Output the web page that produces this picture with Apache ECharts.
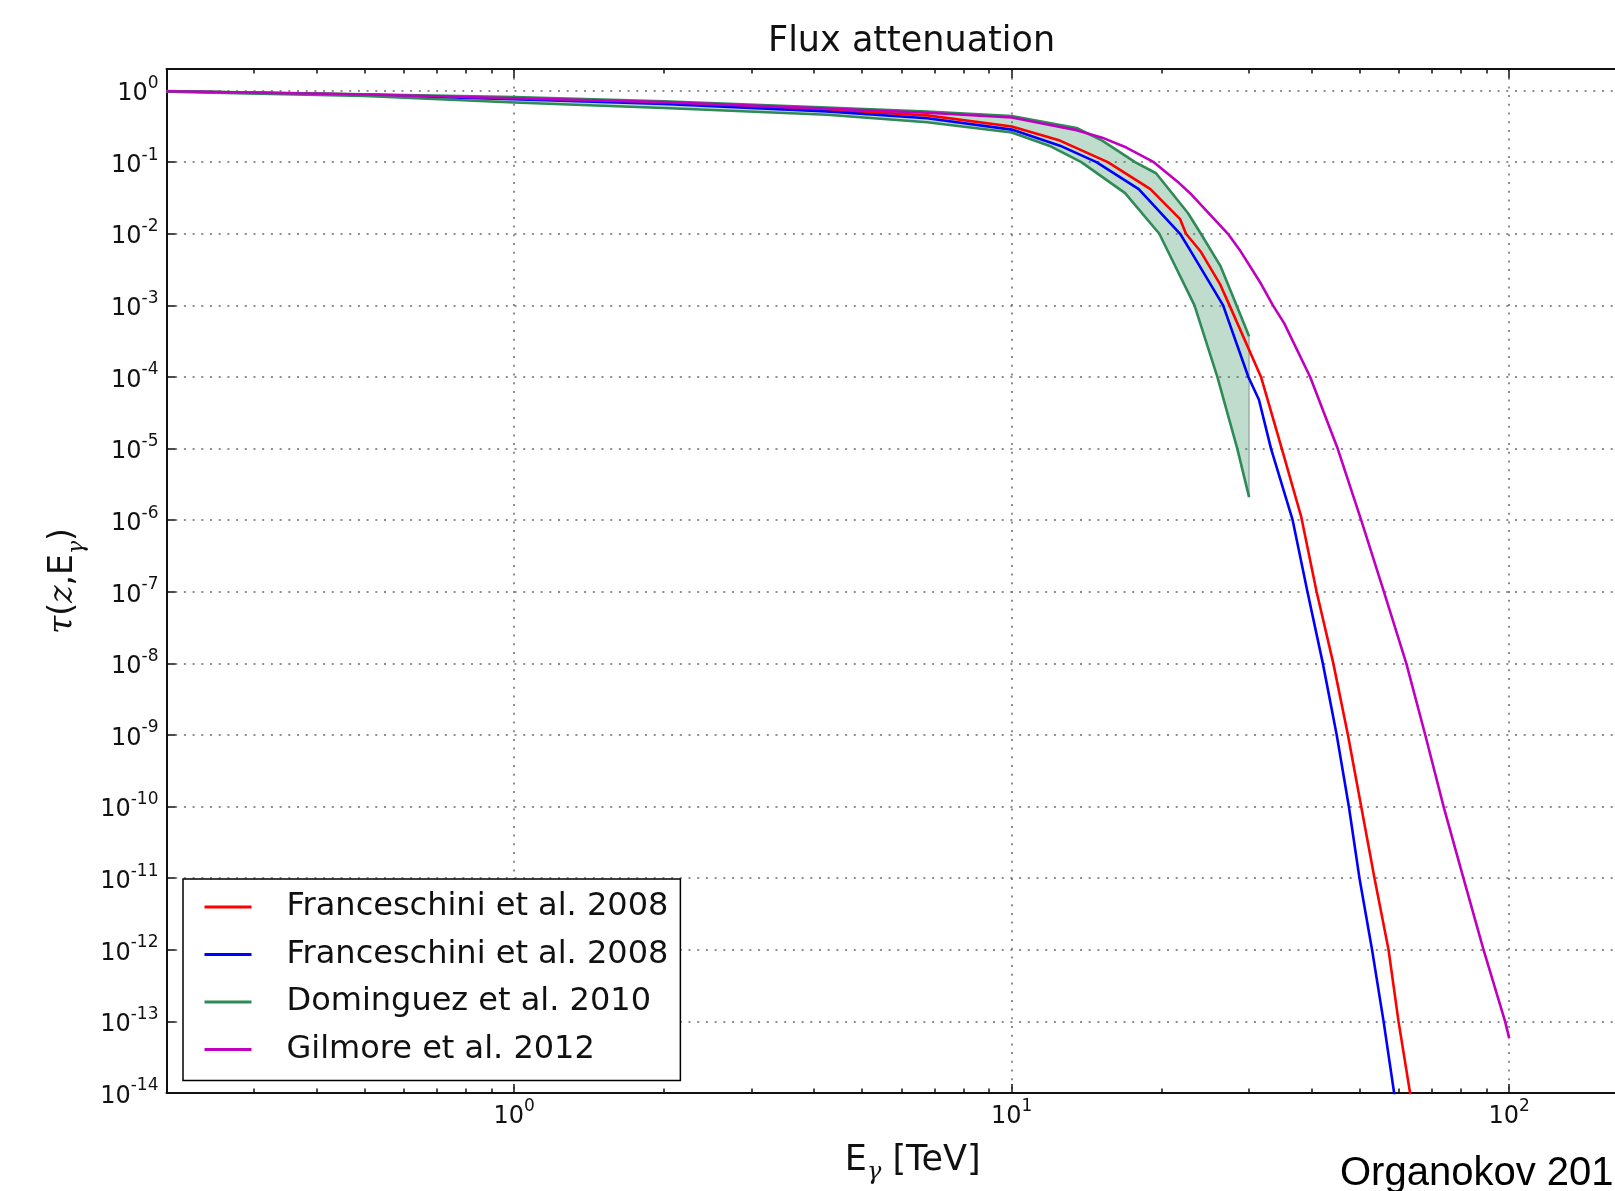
<!DOCTYPE html>
<html><head><meta charset="utf-8">
<script src="https://cdn.jsdelivr.net/npm/echarts@6/dist/echarts.min.js"></script>
<style>html,body{margin:0;padding:0;background:#fff;overflow:hidden;width:1615px;height:1191px}#c{width:1700px;height:1191px}</style>
</head><body><div id="c"></div>
<script>
// ---- data (E in TeV, tau dimensionless) ----
const energyF1 = [0.2, 0.5, 1, 2, 4.25, 6.76, 10, 12.5, 15.6, 19, 21.8, 22.4, 24, 26.2, 27.4, 31.7, 34.9, 38.2, 41.0, 44.3, 47.4, 50.4, 53.6, 57.2, 59.9, 63.2, 66.0];
const tauF1    = [0.98, 0.88, 0.78, 0.68, 0.54, 0.45, 0.315, 0.2, 0.1, 0.042, 0.016, 0.01, 5.6e-3, 2.0e-3, 1.0e-3, 1.0e-4, 1.0e-5, 1.1e-6, 1.0e-7, 1.0e-8, 1.0e-9, 1.0e-10, 1.0e-11, 1.0e-12, 1.0e-13, 1.0e-14, 1.0e-15];

const energyF2 = [0.2, 0.5, 1, 2, 4.25, 6.76, 10, 12.5, 14.8, 18, 21.8, 22.8, 26.6, 29.9, 31.4, 33.2, 36.7, 39.3, 42.2, 45.0, 47.6, 50.0, 53.0, 55.9, 58.7, 61.5];
const tauF2    = [0.98, 0.87, 0.76, 0.65, 0.51, 0.41, 0.285, 0.17, 0.1, 0.042, 0.01, 6.0e-3, 1.0e-3, 1.0e-4, 4.8e-5, 1.0e-5, 1.0e-6, 1.0e-7, 1.0e-8, 1.0e-9, 1.0e-10, 1.0e-11, 1.0e-12, 1.0e-13, 1.0e-14, 1.0e-15];

const energyDomUpper = [0.2, 0.5, 1, 2, 4.25, 6.76, 10, 13.5, 15.2, 17.7, 19.5, 22.6, 24.0, 26.3, 28.3, 30.0];
const tauDomUpper    = [0.985, 0.89, 0.81, 0.71, 0.58, 0.51, 0.44, 0.3, 0.2, 0.1, 0.07, 0.0195, 0.01, 3.5e-3, 1.0e-3, 3.7e-4];

const energyDomLower = [0.2, 0.5, 1, 2, 4.25, 6.76, 10, 12, 13.8, 16.9, 19.8, 23.3, 25.9, 28.4, 30.0];
const tauDomLower    = [0.96, 0.84, 0.68, 0.57, 0.46, 0.36, 0.26, 0.165, 0.1, 0.037, 0.01, 1.0e-3, 1.0e-4, 1.0e-5, 2.1e-6];

const energyGil = [0.2, 0.5, 1, 2, 4.25, 6.76, 10, 13.5, 15.2, 17, 19.3, 21.7, 23, 27.2, 28.7, 31.7, 33.5, 35.3, 39.8, 45.2, 50.4, 56.0, 62.1, 67.8, 73.8, 80.9, 88.8, 98.1, 100];
const tauGil    = [0.98, 0.88, 0.78, 0.69, 0.56, 0.49, 0.42, 0.28, 0.22, 0.16, 0.1, 0.051, 0.035, 0.01, 6.0e-3, 2.0e-3, 1.0e-3, 5.6e-4, 1.0e-4, 1.0e-5, 1.0e-6, 1.0e-7, 1.0e-8, 1.0e-9, 1.0e-10, 1.0e-11, 1.0e-12, 1.0e-13, 5.8e-14];

const seriesKeys   = ['F1', 'F2', 'D', 'G'];
const legendLabels = ['Franceschini et al. 2008', 'Franceschini et al. 2008', 'Dominguez et al. 2010', 'Gilmore et al. 2012'];

const xMajorTicks = [1, 10, 100];
const xMinorTicks = [0.3, 0.4, 0.5, 0.6, 0.7, 0.8, 0.9, 2, 3, 4, 5, 6, 7, 8, 9, 20, 30, 40, 50, 60, 70, 80, 90];
const yMajorTicks = [1e-14, 1e-13, 1e-12, 1e-11, 1e-10, 1e-9, 1e-8, 1e-7, 1e-6, 1e-5, 1e-4, 1e-3, 1e-2, 1e-1, 1];

const titleText = 'Flux attenuation';
const creditText = 'Organokov 2019';

// ---- helpers ----
const zip = (xs, ys) => xs.map((x, i) => [x, ys[i]]);
const FONT = 'DejaVu Sans';
const INK = '#111';
const labelRich = {
  b: {fontFamily: FONT, fontSize: 24, color: INK, lineHeight: 31, verticalAlign: 'bottom'},
  s: {fontFamily: FONT, fontSize: 17, color: INK, lineHeight: 19, verticalAlign: 'top'}
};
function powLabel(v) {
  const e = Math.log10(v);
  const r = Math.round(e);
  if (Math.abs(e - r) > 1e-6) return '';
  return '{b|10}{s|' + r + '}';
}
const gridLine = {show: true, lineStyle: {color: '#6a6a6a', width: 1.5, type: [2, 6.7]}};
const frameLine = {show: true, onZero: false, lineStyle: {color: INK, width: 2}};

function xAx(pos, ticks, len, withLine, withLabels) {
  return {
    type: 'log', logBase: 10, min: 0.2, max: 200, position: pos, gridIndex: 0,
    axisLine: withLine ? frameLine : {show: false},
    axisTick: {show: true, inside: true, length: len, lineStyle: {color: INK, width: 1.5}, customValues: ticks},
    axisLabel: withLabels ? {show: true, margin: 5, formatter: powLabel, rich: labelRich, customValues: ticks} : {show: false},
    splitLine: withLabels ? gridLine : {show: false},
    minorTick: {show: false}
  };
}

const lineSeries = (key, data, color, z) => ({
  name: key, type: 'line', data: data, symbol: 'none', showSymbol: false, smooth: false,
  lineStyle: {color: color, width: 2.6, join: 'round'}, itemStyle: {color: color},
  clip: true, z: z, animation: false
});

const chart = echarts.init(document.getElementById('c'), null, {renderer: 'canvas'});
const mainX = xAx('bottom', xMajorTicks, 9, true, true);
mainX.name = '{e|E}{g|γ}{e| [TeV]}';
mainX.nameLocation = 'middle';
mainX.nameGap = 50;
mainX.nameTextStyle = {
  rich: {
    e: {fontFamily: FONT, fontSize: 35, color: INK, lineHeight: 42, verticalAlign: 'top'},
    g: {fontFamily: 'DejaVu Serif', fontStyle: 'italic', fontSize: 24, color: INK, lineHeight: 22, verticalAlign: 'bottom'}
  }
};

chart.setOption({
  animation: false,
  backgroundColor: '#fff',
  title: {
    text: titleText, left: 768, top: 24, padding: 0,
    textStyle: {fontFamily: FONT, fontSize: 35, fontWeight: 'normal', color: INK}
  },
  grid: {left: 166.5, width: 1492.5, top: 69, bottom: 98, containLabel: false},
  xAxis: [
    mainX,
    xAx('bottom', xMinorTicks, 4.5, false, false),
    xAx('top', xMajorTicks, 9, true, false),
    xAx('top', xMinorTicks, 4.5, false, false)
  ],
  yAxis: [{
    type: 'log', logBase: 10, min: 1e-14, max: 2, position: 'left',
    axisLine: frameLine,
    axisTick: {show: true, inside: true, length: 9, lineStyle: {color: INK, width: 1.5}, customValues: yMajorTicks},
    axisLabel: {show: true, margin: 8, formatter: powLabel, rich: labelRich, customValues: yMajorTicks},
    splitLine: gridLine,
    minorTick: {show: false},
    name: '{t|τ}{p|(}{t|z}{p|,E}{g|γ}{p|)}',
    nameLocation: 'middle', nameRotate: 90, nameGap: 78,
    nameTextStyle: {
      rich: {
        t: {fontFamily: 'DejaVu Serif', fontStyle: 'italic', fontSize: 33, color: INK, lineHeight: 42, verticalAlign: 'top'},
        p: {fontFamily: FONT, fontSize: 33, color: INK, lineHeight: 42, verticalAlign: 'top'},
        g: {fontFamily: 'DejaVu Serif', fontStyle: 'italic', fontSize: 22, color: INK, lineHeight: 21, verticalAlign: 'bottom'}
      }
    }
  }],
  legend: {
    data: seriesKeys,
    formatter: (name) => legendLabels[seriesKeys.indexOf(name)],
    orient: 'vertical', left: 183, top: 879,
    padding: [12, 12, 15, 21.5],
    icon: 'rect',
    itemWidth: 47, itemHeight: 3, itemGap: 15.5,
    borderColor: '#000', borderWidth: 1.5, backgroundColor: '#fff',
    textStyle: {fontFamily: FONT, fontSize: 32, color: INK, lineHeight: 32, padding: [0, 0, 0, 30]},
    selectedMode: false, z: 10
  },
  graphic: [{
    type: 'text', left: 1340, top: 1154, z: 100,
    style: {text: creditText, font: '40px "Liberation Sans"', fill: '#000'}
  }],
  series: [
    {
      type: 'custom', name: 'band', coordinateSystem: 'cartesian2d', xAxisIndex: 0, yAxisIndex: 0,
      data: [[1, 1]], silent: true, z: 1,
      renderItem: (params, api) => {
        const pts = [];
        for (let i = 0; i < energyDomUpper.length; i++) pts.push(api.coord([energyDomUpper[i], tauDomUpper[i]]));
        for (let i = energyDomLower.length - 1; i >= 0; i--) pts.push(api.coord([energyDomLower[i], tauDomLower[i]]));
        return {type: 'polygon', shape: {points: pts},
          style: {fill: 'rgba(46,139,87,0.3)', stroke: 'rgba(70,70,70,0.55)', lineWidth: 1}};
      }
    },
    lineSeries('F1', zip(energyF1, tauF1), '#ff0000', 3),
    lineSeries('F2', zip(energyF2, tauF2), '#0000ff', 3),
    lineSeries('D', zip(energyDomUpper, tauDomUpper), '#2e8b57', 4),
    lineSeries('D', zip(energyDomLower, tauDomLower), '#2e8b57', 4),
    lineSeries('G', zip(energyGil, tauGil), '#bf00bf', 5)
  ]
});
</script></body></html>
